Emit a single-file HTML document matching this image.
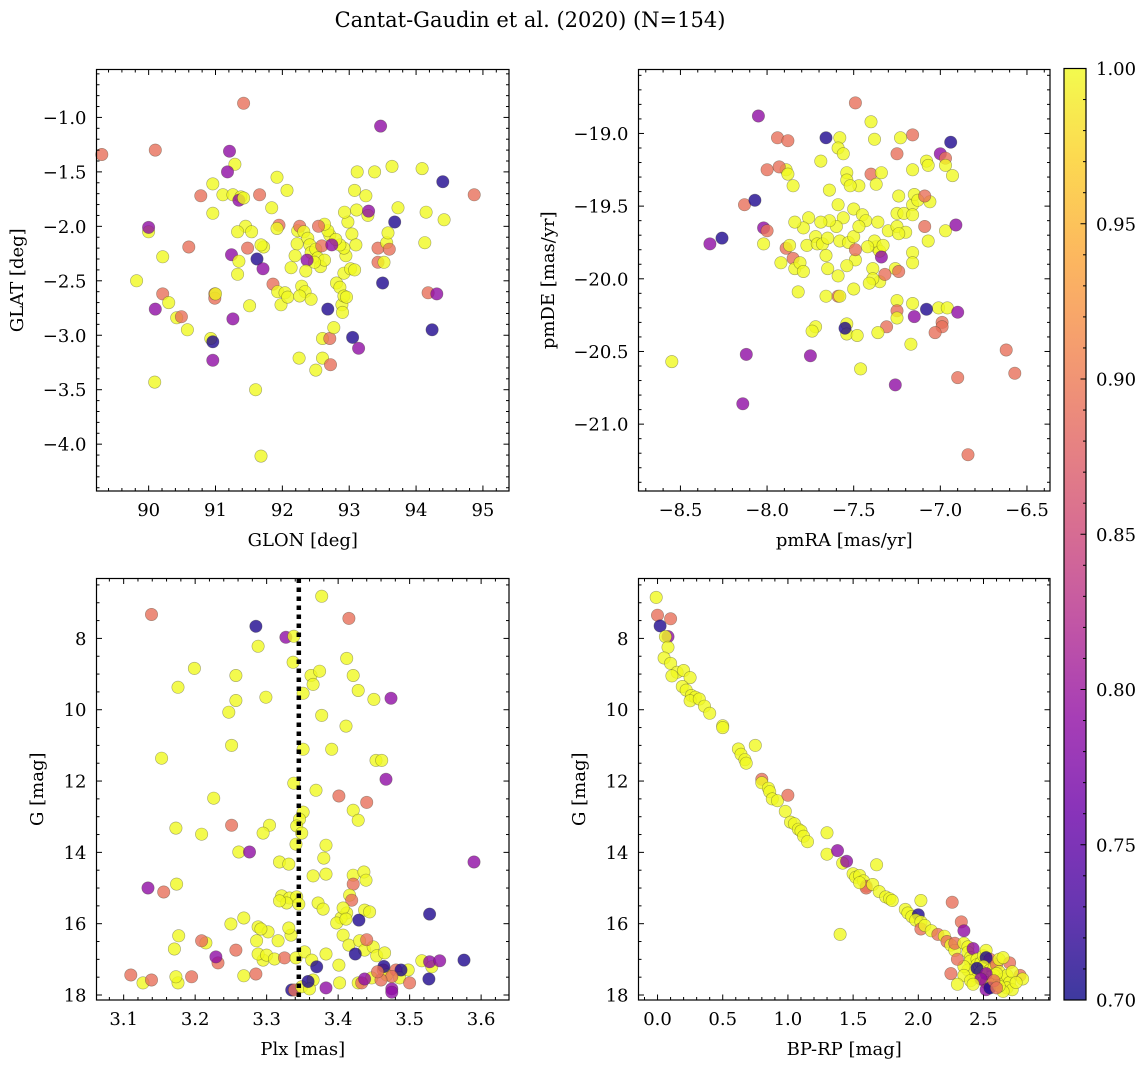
<!DOCTYPE html>
<html><head><meta charset="utf-8">
<style>
html,body{margin:0;padding:0;background:#fff;}
svg{display:block;font-family:"DejaVu Serif","Liberation Serif",serif;}
</style></head>
<body>
<svg id="fig" width="1148" height="1068" viewBox="0 0 1148 1068" xmlns="http://www.w3.org/2000/svg">
<rect width="1148" height="1068" fill="#fff"/>
<text x="530" y="27" font-size="21" text-anchor="middle">Cantat-Gaudin et al. (2020) (N=154)</text>
</svg>
<script>
// ---- Panel 1: GLON / GLAT ----
const glon=[89.30,90.10,91.42,93.47,91.21,91.29,91.18,89.82,90.00,90.00,90.21,90.60,90.21,90.30,90.42,90.49,90.10,90.58,90.99,90.99,91.00,90.93,90.96,90.96,90.09,90.78,90.96,90.96,91.11,91.26,91.38,91.35,91.42,91.45,91.54,91.24,91.35,91.33,91.48,91.33,91.66,91.72,91.68,91.62,91.71,91.51,91.26,91.84,91.92,92.07,91.95,91.92,91.86,91.93,91.98,92.04,92.08,91.60,91.68,92.13,92.19,92.22,92.23,92.26,92.32,92.38,92.41,92.43,92.50,92.53,92.57,92.63,92.48,92.59,92.71,92.68,92.63,92.54,92.37,92.35,92.29,92.34,92.43,92.26,92.25,92.50,92.60,92.60,92.71,92.77,92.72,92.81,92.86,92.92,93.02,92.95,92.92,92.86,92.80,92.74,93.04,92.98,92.93,92.89,92.92,92.68,93.11,93.08,93.12,93.10,93.08,92.96,92.90,93.05,93.14,93.25,93.28,93.29,93.38,93.43,93.43,93.50,93.52,93.56,93.58,93.68,93.73,93.60,93.64,94.09,94.15,94.13,94.18,94.24,94.40,94.31,94.42,94.87];
const glat=[-1.34,-1.30,-0.87,-1.08,-1.31,-1.43,-1.50,-2.50,-2.05,-2.01,-2.28,-2.19,-2.62,-2.70,-2.84,-2.83,-2.76,-2.95,-2.62,-2.66,-2.62,-3.03,-3.06,-3.23,-3.43,-1.72,-1.61,-1.88,-1.71,-1.71,-1.73,-1.76,-1.74,-2.00,-2.05,-2.26,-2.32,-2.44,-2.20,-2.05,-1.71,-2.19,-2.17,-2.30,-2.39,-2.73,-2.85,-1.83,-1.55,-1.67,-1.99,-2.02,-2.53,-2.60,-2.72,-2.61,-2.65,-3.50,-4.11,-2.38,-2.27,-2.16,-2.04,-2.00,-2.05,-2.11,-2.17,-2.24,-2.21,-2.29,-2.37,-2.31,-2.33,-2.18,-2.08,-2.04,-1.98,-2.00,-2.31,-2.41,-2.55,-2.60,-2.67,-2.64,-3.21,-3.32,-3.21,-3.03,-3.03,-2.93,-3.27,-2.52,-2.56,-2.43,-2.39,-2.27,-2.20,-2.17,-2.12,-2.17,-2.07,-1.96,-1.87,-2.72,-2.64,-2.76,-1.85,-1.67,-1.50,-2.17,-2.40,-2.65,-2.79,-3.02,-3.12,-1.72,-1.90,-1.86,-1.50,-2.20,-2.33,-2.52,-2.33,-2.15,-2.06,-1.96,-1.83,-2.21,-1.45,-1.47,-1.87,-2.15,-2.61,-2.95,-1.59,-2.62,-1.94,-1.71];
const prob1=[.89,.89,.89,.79,.79,1,.79,1,1,.79,1,.89,.89,1,1,.89,.79,1,.89,.89,1,1,.71,.79,1,.89,1,1,1,1,1,.79,1,1,1,.79,1,1,.89,1,.89,1,1,.71,.79,1,.79,1,1,1,.89,1,.89,1,1,1,1,1,1,1,1,1,1,.89,1,1,1,1,1,1,1,1,1,.89,1,1,1,.89,.79,1,1,1,1,1,1,1,1,1,.89,1,.89,1,1,1,1,1,1,1,1,.79,1,1,1,1,1,.71,1,1,1,1,1,1,1,.71,.79,1,1,.79,1,.89,.89,.71,1,1,1,.71,1,.89,1,1,1,1,.89,.71,.71,.79,1,.89];
const p1XTicks=[90,91,92,93,94,95];
const p1XLabels=["90","91","92","93","94","95"];
const p1YTicks=[-1.0,-1.5,-2.0,-2.5,-3.0,-3.5,-4.0];
const p1YLabels=["\u22121.0","\u22121.5","\u22122.0","\u22122.5","\u22123.0","\u22123.5","\u22124.0"];

// ---- Panel 2: pmRA / pmDE ----
const pmra=[-8.05,-7.49,-7.66,-7.94,-7.88,-7.58,-7.40,-7.16,-6.94,-7.23,-7.38,-7.59,-7.56,-7.69,-7.25,-7.00,-6.97,-7.08,-7.07,-6.97,-6.93,-7.16,-8.00,-7.89,-7.93,-7.85,-7.88,-7.54,-7.47,-7.40,-7.37,-7.24,-7.34,-7.54,-7.52,-7.64,-7.50,-7.45,-7.59,-7.56,-7.43,-7.36,-7.25,-7.21,-7.16,-7.15,-7.13,-7.16,-7.06,-7.09,-8.13,-8.07,-8.02,-8.00,-8.26,-8.33,-8.02,-7.89,-7.87,-7.92,-7.85,-7.84,-7.81,-7.77,-7.72,-7.71,-7.68,-7.65,-7.66,-7.58,-7.60,-7.64,-7.69,-7.76,-7.79,-7.84,-7.79,-7.82,-7.72,-7.74,-7.65,-7.59,-7.49,-7.53,-7.50,-7.47,-7.49,-7.54,-7.39,-7.37,-7.35,-7.38,-7.30,-7.25,-7.20,-7.16,-7.16,-7.24,-7.07,-7.09,-6.97,-7.26,-7.35,-7.32,-7.39,-7.42,-7.33,-7.34,-7.24,-7.25,-7.25,-7.16,-7.25,-7.17,-7.31,-7.36,-7.54,-7.54,-7.48,-7.55,-7.66,-7.59,-7.58,-7.50,-7.41,-7.01,-6.96,-6.99,-6.99,-7.03,-7.15,-7.08,-6.91,-6.90,-7.46,-7.75,-7.26,-6.62,-6.57,-6.90,-6.84,-8.12,-8.14,-8.55];
const pmde=[-18.88,-18.79,-19.03,-19.03,-19.05,-19.03,-18.92,-19.01,-19.06,-19.03,-19.04,-19.10,-19.14,-19.19,-19.14,-19.14,-19.17,-19.19,-19.22,-19.22,-19.29,-19.25,-19.25,-19.25,-19.23,-19.36,-19.28,-19.27,-19.36,-19.28,-19.35,-19.43,-19.27,-19.32,-19.36,-19.39,-19.52,-19.56,-19.49,-19.58,-19.60,-19.61,-19.55,-19.55,-19.49,-19.42,-19.46,-19.56,-19.47,-19.43,-19.49,-19.46,-19.65,-19.67,-19.72,-19.76,-19.76,-19.79,-19.77,-19.89,-19.86,-19.93,-19.89,-19.77,-19.71,-19.76,-19.76,-19.72,-19.84,-19.74,-19.64,-19.60,-19.61,-19.58,-19.65,-19.61,-19.95,-20.09,-20.33,-20.36,-19.93,-19.98,-19.87,-19.75,-19.71,-19.64,-19.80,-19.91,-19.93,-19.78,-19.81,-19.74,-19.67,-19.64,-19.68,-19.82,-19.89,-19.69,-19.74,-19.64,-19.67,-19.93,-20.02,-19.97,-20.00,-19.78,-19.77,-19.85,-19.95,-20.15,-20.22,-20.17,-20.27,-20.45,-20.33,-20.37,-20.31,-20.38,-20.39,-20.34,-20.12,-20.12,-20.12,-20.07,-20.03,-20.20,-20.20,-20.30,-20.33,-20.37,-20.26,-20.21,-19.63,-20.23,-20.62,-20.53,-20.73,-20.49,-20.65,-20.68,-21.21,-20.52,-20.86,-20.57];
const prob2=[.79,.89,.71,.89,.89,1,1,.89,.71,1,1,1,1,1,.89,.79,.89,1,1,1,1,1,.89,1,.89,1,1,1,1,.89,1,1,1,1,1,1,1,1,1,1,1,1,1,1,1,1,1,1,1,.89,.89,.71,.79,.89,.71,.79,1,.89,1,1,.89,1,1,1,1,1,1,1,1,1,1,1,1,1,1,1,1,1,1,1,1,1,1,1,1,1,.89,1,1,1,1,1,1,1,1,1,1,1,1,.89,1,1,1,.89,1,1,1,.79,.89,1,.89,1,1,1,.89,1,1,1,1,.71,1,.89,1,1,1,1,1,.89,.89,.89,.79,.71,.79,.79,1,.79,.79,.89,.89,.89,.89,.79,.79,1];
const p2XTicks=[-8.5,-8.0,-7.5,-7.0,-6.5];
const p2XLabels=["\u22128.5","\u22128.0","\u22127.5","\u22127.0","\u22126.5"];
const p2YTicks=[-19.0,-19.5,-20.0,-20.5,-21.0];
const p2YLabels=["\u221219.0","\u221219.5","\u221220.0","\u221220.5","\u221221.0"];

// ---- Panel 3: Plx / G ----
const plx=[3.139,3.285,3.327,3.338,3.377,3.415,3.288,3.337,3.199,3.176,3.257,3.362,3.365,3.374,3.412,3.421,3.428,3.257,3.299,3.351,3.450,3.474,3.247,3.377,3.411,3.351,3.391,3.251,3.153,3.453,3.461,3.467,3.338,3.369,3.401,3.440,3.421,3.428,3.226,3.351,3.346,3.342,3.349,3.251,3.304,3.295,3.341,3.173,3.209,3.261,3.276,3.318,3.331,3.383,3.380,3.383,3.365,3.421,3.421,3.436,3.439,3.321,3.332,3.342,3.328,3.318,3.345,3.372,3.379,3.416,3.419,3.412,3.404,3.407,3.398,3.411,3.268,3.288,3.250,3.215,3.209,3.257,3.232,3.229,3.286,3.316,3.334,3.331,3.302,3.292,3.295,3.288,3.300,3.268,3.285,3.311,3.325,3.341,3.353,3.363,3.370,3.365,3.335,3.339,3.349,3.360,3.383,3.401,3.407,3.415,3.430,3.437,3.449,3.454,3.465,3.463,3.447,3.428,3.433,3.468,3.481,3.486,3.498,3.500,3.517,3.531,3.528,3.542,3.475,3.437,3.383,3.402,3.171,3.127,3.110,3.139,3.176,3.173,3.195,3.134,3.156,3.174,3.177,3.437,3.440,3.444,3.590,3.528,3.576,3.527,3.488,3.475,3.475,3.464,3.460,3.455,3.429,3.424,3.358];
const gmagA=[7.33,7.66,7.97,7.94,6.82,7.44,8.22,8.67,8.84,9.37,9.04,9.04,9.29,8.92,8.56,9.04,9.46,9.74,9.65,9.54,9.71,9.68,10.07,10.16,10.46,11.11,11.11,11.00,11.36,11.42,11.42,11.95,12.06,12.26,12.42,12.60,12.82,13.10,12.48,12.87,13.07,13.26,13.46,13.24,13.24,13.46,13.77,13.32,13.49,13.99,13.99,14.27,14.33,13.80,14.16,14.61,14.66,14.64,14.89,14.55,14.78,15.22,15.28,15.25,15.42,15.36,15.45,15.42,15.59,15.20,15.34,15.70,15.84,15.56,15.98,15.87,15.84,16.09,16.01,16.54,16.48,16.74,17.10,16.93,16.48,16.48,16.32,16.12,16.23,16.15,17.02,16.85,16.88,17.46,17.41,16.99,16.96,16.96,16.79,17.02,17.21,17.58,17.86,17.86,17.77,17.83,16.85,17.16,16.32,16.60,16.48,16.74,16.65,16.90,16.82,17.30,17.52,17.66,17.66,17.44,17.30,17.52,17.30,17.66,17.04,17.21,17.07,17.04,17.83,17.55,17.80,17.66,16.71,17.66,17.44,17.58,17.66,17.49,17.49,15.00,15.11,14.89,16.34,15.62,16.45,15.67,14.27,15.73,17.02,17.55,17.30,17.48,17.92,17.20,17.58,17.35,15.90,16.85,17.62];
const prob3=[.89,.71,.79,1,1,.89,1,1,1,1,1,1,1,1,1,1,1,1,1,1,1,.79,1,1,1,1,1,1,1,1,1,.79,1,1,.89,.89,1,1,1,1,1,1,1,.89,1,1,1,1,1,1,.79,1,1,1,1,1,1,1,.89,1,1,1,1,1,1,1,1,1,1,1,.89,1,1,1,1,1,1,1,1,1,.89,.89,.89,.79,1,1,1,1,1,1,1,1,1,1,.89,1,.89,1,1,1,.71,1,.71,.89,1,1,1,1,1,1,1,1,1,1,1,.89,1,1,.89,1,.89,1,1,.89,1,1,.79,.79,.79,.79,.79,1,1,1,.89,.89,1,1,.89,.79,.89,1,1,1,.89,1,.79,.71,.71,.71,.71,.89,.79,.71,.89,.89,.71,.71,.71];
const p3XTicks=[3.1,3.2,3.3,3.4,3.5,3.6];
const p3XLabels=["3.1","3.2","3.3","3.4","3.5","3.6"];
const p3YTicks=[8,10,12,14,16,18];
const p3YLabels=["8","10","12","14","16","18"];
const plxMedian=[3.345];

// ---- Panel 4: BP-RP / G ----
const bprp=[-0.01,0.00,0.10,0.02,0.08,0.06,0.08,0.05,0.10,0.15,0.11,0.20,0.25,0.19,0.22,0.26,0.29,0.25,0.32,0.36,0.40,0.50,0.50,0.62,0.64,0.67,0.68,0.75,0.80,0.80,0.85,0.86,0.88,0.92,0.98,1.00,1.02,1.05,1.08,1.10,1.12,1.15,1.30,1.30,1.38,1.42,1.45,1.50,1.52,1.55,1.58,1.60,1.60,1.55,1.65,1.68,1.70,1.75,1.78,1.80,1.90,1.92,1.95,2.00,1.98,2.02,2.02,2.05,2.02,2.10,2.15,2.20,2.22,2.25,2.28,2.28,2.26,2.33,2.35,2.35,2.38,2.38,2.40,2.42,2.40,2.45,2.45,2.48,2.50,2.52,2.55,2.52,2.50,2.55,2.58,2.60,2.62,2.62,2.58,2.55,2.50,2.45,2.42,2.38,2.35,2.30,2.25,2.35,2.48,2.52,2.55,2.52,2.55,2.62,2.65,2.68,2.70,2.78,2.80,2.70,2.68,2.72,2.65,2.60,2.45,2.40,2.30,1.40,2.65,2.72,2.52,2.48,2.62,2.75,2.58,2.42,2.60];
const gmagB=[6.85,7.35,7.45,7.65,7.95,7.95,8.25,8.55,8.70,8.95,9.05,8.90,9.10,9.35,9.45,9.60,9.65,9.75,9.70,9.90,10.10,10.45,10.50,11.10,11.25,11.40,11.50,11.00,11.95,12.05,12.20,12.30,12.50,12.55,12.85,12.40,13.15,13.20,13.35,13.40,13.55,13.70,13.45,14.05,13.95,14.30,14.25,14.60,14.70,14.65,14.80,14.95,15.00,14.85,14.90,14.35,15.10,15.25,15.30,15.35,15.60,15.70,15.80,15.75,15.90,15.95,16.15,16.05,15.35,16.20,16.30,16.35,16.50,16.60,16.75,16.55,15.40,15.95,16.20,16.55,16.65,16.80,16.95,16.70,17.05,17.00,17.15,17.10,16.90,16.75,17.00,16.95,17.20,17.30,17.25,17.15,17.00,17.35,17.45,17.50,17.55,17.50,17.45,17.30,17.20,17.00,17.40,17.45,17.35,17.65,17.70,17.85,17.80,17.65,17.55,17.45,17.10,17.45,17.55,17.65,17.80,17.85,17.90,17.40,17.25,17.60,17.70,16.30,16.95,17.35,17.40,17.55,17.75,17.65,17.60,17.70,17.80];
const prob4=[1,.89,.89,.71,.79,1,1,1,1,1,1,1,1,1,1,1,1,1,1,1,1,1,1,1,1,1,1,1,.89,1,1,1,1,1,1,.89,1,1,1,1,1,1,1,1,.79,1,.79,1,1,1,1,.89,.89,1,1,1,1,1,1,1,1,1,1,.71,1,1,.89,1,1,1,.89,1,.89,1,1,.89,.89,.89,.79,1,1,1,1,.79,1,1,1,1,1,1,.89,.71,1,1,1,.89,1,1,1,1,1,1,1,1,1,.89,.89,1,1,.89,1,.79,.71,1,1,1,.89,.89,1,1,1,1,1,1,.71,1,1,1,1,1,.79,.79,1,1,.89,1,.89];
const p4XTicks=[0.0,0.5,1.0,1.5,2.0,2.5];
const p4XLabels=["0.0","0.5","1.0","1.5","2.0","2.5"];
const p4YTicks=[8,10,12,14,16,18];
const p4YLabels=["8","10","12","14","16","18"];

const cbTicks=[0.70,0.75,0.80,0.85,0.90,0.95,1.00];
const cbLabels=["0.70","0.75","0.80","0.85","0.90","0.95","1.00"];

const NS="http://www.w3.org/2000/svg";
const svg=document.getElementById('fig');
const FS=18;
function mk(tag,attrs,parent){const e=document.createElementNS(NS,tag);for(const k in attrs)e.setAttribute(k,attrs[k]);(parent||svg).appendChild(e);return e;}
const stops=[[0,13,8,135],[.1,65,4,157],[.2,106,0,168],[.3,143,13,164],[.4,177,42,144],[.5,204,71,120],[.6,225,100,98],[.7,242,132,75],[.8,252,166,54],[.9,252,206,37],[1,240,249,33]];
function plasma(t){t=Math.max(0,Math.min(1,t));for(let i=1;i<stops.length;i++){if(t<=stops[i][0]){const a=stops[i-1],b=stops[i];const f=(t-a[0])/(b[0]-a[0]);return `rgb(${Math.round(a[1]+f*(b[1]-a[1]))},${Math.round(a[2]+f*(b[2]-a[2]))},${Math.round(a[3]+f*(b[3]-a[3]))})`;}}return 'rgb(240,249,33)';}
const vmin=0.7,vmax=1.0;

function panel(o){
  const g=mk('g',{});
  
  
  const sx=v=>o.x0+(v-o.xmin)/(o.xmax-o.xmin)*o.w;
  const sy=v=>o.y0+(o.inv?(v-o.ymin):(o.ymax-v))/(o.ymax-o.ymin)*o.h;
  const pg=mk('g',{},g);
  
  
  for(let i=0;i<o.xs.length;i++){
    const c=mk('circle',{cx:sx(o.xs[i]).toFixed(1),cy:sy(o.ys[i]).toFixed(1),r:6.2,fill:plasma((o.cs[i]-vmin)/(vmax-vmin)),'fill-opacity':0.8,stroke:'rgba(60,60,40,0.45)','stroke-width':0.6},pg);
    
    
  }
  if(o.vline){for(const v of o.vline){const l=mk('line',{x1:sx(v),x2:sx(v),y1:o.y0,y2:o.y0+o.h,stroke:'#000','stroke-width':4.5,'stroke-dasharray':'4.5 4.5'},g);}}
  const fr=mk('rect',{x:o.x0,y:o.y0,width:o.w,height:o.h,fill:'none',stroke:'#000','stroke-width':1.2},g);
  
  
  const tk=mk('g',{stroke:'#000','stroke-width':1},g);
  
  
  const lo=Math.min(o.xmin,o.xmax),hi=Math.max(o.xmin,o.xmax);
  for(let v=Math.ceil(lo/o.xminor-1e-6)*o.xminor;v<=hi+1e-9;v+=o.xminor){const X=sx(v);const maj=o.xt.some(t=>Math.abs(t-v)<1e-6);const L=maj?5.5:3;mk('line',{x1:X,x2:X,y1:o.y0+o.h,y2:o.y0+o.h-L},tk);mk('line',{x1:X,x2:X,y1:o.y0,y2:o.y0+L},tk);}
  const ylo=Math.min(o.ymin,o.ymax),yhi=Math.max(o.ymin,o.ymax);
  for(let v=Math.ceil(ylo/o.yminor-1e-6)*o.yminor;v<=yhi+1e-9;v+=o.yminor){const Y=sy(v);const maj=o.yt.some(t=>Math.abs(t-v)<1e-6);const L=maj?5.5:3;mk('line',{x1:o.x0,x2:o.x0+L,y1:Y,y2:Y},tk);mk('line',{x1:o.x0+o.w,x2:o.x0+o.w-L,y1:Y,y2:Y},tk);}
  o.xt.forEach((t,i)=>{const e=mk('text',{x:sx(t),y:o.y0+o.h+25,'font-size':FS,'text-anchor':'middle'},g);e.textContent=o.xl[i];});
  o.yt.forEach((t,i)=>{const e=mk('text',{x:o.x0-10,y:sy(t)+6.5,'font-size':FS,'text-anchor':'end'},g);e.textContent=o.yl[i];});
  const xt=mk('text',{x:o.x0+o.w/2,y:o.y0+o.h+55,'font-size':FS,'text-anchor':'middle'},g);xt.textContent=o.xlab;
  
  
  const yx=o.ytx,yy=o.y0+o.h/2;
  const yt=mk('text',{x:yx,y:yy,'font-size':FS,'text-anchor':'middle',transform:`rotate(-90 ${yx} ${yy})`},g);yt.textContent=o.ylab;
  
  
}
panel({name:'panel-glon-glat',x0:96.5,y0:69.5,w:412.5,h:421.5,xmin:89.22,xmax:95.39,ymin:-4.43,ymax:-0.56,xt:p1XTicks,xl:p1XLabels,yt:p1YTicks,yl:p1YLabels,xminor:0.2,yminor:0.1,xs:glon,ys:glat,cs:prob1,xlab:'GLON [deg]',ylab:'GLAT [deg]',ytx:23});
panel({name:'panel-pmra-pmde',x0:638.5,y0:69.5,w:411.5,h:421.5,xmin:-8.742,xmax:-6.367,ymin:-21.46,ymax:-18.56,xt:p2XTicks,xl:p2XLabels,yt:p2YTicks,yl:p2YLabels,xminor:0.1,yminor:0.1,xs:pmra,ys:pmde,cs:prob2,xlab:'pmRA [mas/yr]',ylab:'pmDE [mas/yr]',ytx:554});
panel({name:'panel-plx-g',x0:96.5,y0:578.5,w:412.5,h:421.5,xmin:3.062,xmax:3.639,ymin:6.32,ymax:18.14,inv:true,xt:p3XTicks,xl:p3XLabels,yt:p3YTicks,yl:p3YLabels,xminor:0.02,yminor:0.5,xs:plx,ys:gmagA,cs:prob3,xlab:'Plx [mas]',ylab:'G [mag]',ytx:43,vline:plxMedian});
panel({name:'panel-color-magnitude',x0:638.5,y0:578.5,w:411.5,h:421.5,xmin:-0.146,xmax:3.01,ymin:6.32,ymax:18.14,inv:true,xt:p4XTicks,xl:p4XLabels,yt:p4YTicks,yl:p4YLabels,xminor:0.1,yminor:0.5,xs:bprp,ys:gmagB,cs:prob4,xlab:'BP-RP [mag]',ylab:'G [mag]',ytx:585});

const cb=mk('g',{});


const defs=mk('defs',{},cb);
const lg=mk('linearGradient',{id:'plasmaGrad',x1:0,y1:1,x2:0,y2:0},defs);
for(let i=0;i<=20;i++){mk('stop',{offset:i/20,'stop-color':plasma(i/20)},lg);}
const cbx=1064,cby=68.5,cbw=22,cbh=931.5;
mk('rect',{x:cbx,y:cby,width:cbw,height:cbh,fill:'url(#plasmaGrad)','fill-opacity':0.8},cb);
mk('rect',{x:cbx,y:cby,width:cbw,height:cbh,fill:'none',stroke:'#000','stroke-width':1.2},cb);
const cy=v=>cby+cbh-(v-vmin)/(vmax-vmin)*cbh;
for(let k=0;k<=30;k++){const v=vmin+k*0.01;const maj=k%5===0;mk('line',{x1:cbx+cbw,x2:cbx+cbw-(maj?5.5:3),y1:cy(v),y2:cy(v),stroke:'#000','stroke-width':1},cb);}
cbTicks.forEach((t,i)=>{const e=mk('text',{x:cbx+cbw+10,y:cy(t)+6.5,'font-size':FS},cb);e.textContent=cbLabels[i];});
</script>
</body></html>
